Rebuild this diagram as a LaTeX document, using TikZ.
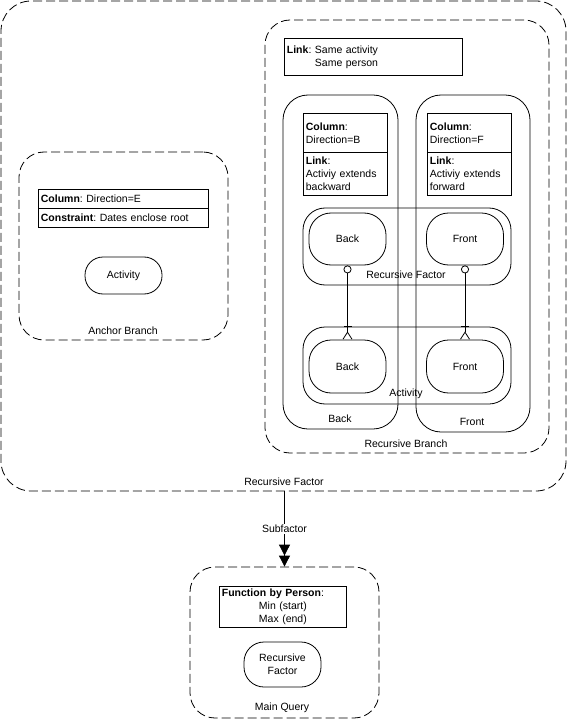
\documentclass[tikz,border=0pt]{standalone}
\usepackage{fontspec}
\setmainfont{Liberation Sans}
\usetikzlibrary{arrows.meta}
\frenchspacing
\begin{document}
\begin{tikzpicture}[x=1pt,y=-1pt,
  font=\fontsize{10.5}{13}\selectfont,
  line width=0.8pt,
  dashbox/.style={draw, dash pattern=on 9pt off 4pt, rounded corners=#1, inner sep=0pt},
  solidbox/.style={draw, rounded corners=#1, inner sep=0pt},
  txtbox/.style={draw, rectangle, inner sep=2.5pt, align=left, anchor=north west},
  lbl/.style={inner sep=0pt},
  erl/.style={{Circle[open,length=8pt,width=8pt]}-{Bar[width=8pt,sep=5pt]Straight Barb[reversed,length=7pt,width=9pt]}},
  sub/.style={-{Triangle[length=11pt,width=11pt,sep=0pt]Triangle[length=11pt,width=11pt]}}
]
\useasboundingbox (0,0) rectangle (568,719);

% outer recursive factor
\node[dashbox=30pt, minimum width=565pt, minimum height=490pt] (rf) at (283.5,246) {};
\node[lbl] (rflbl) at (284,482) {Recursive Factor};

% recursive branch
\node[dashbox=25pt, minimum width=284pt, minimum height=433pt] (rb) at (407,236.5) {};
\node[lbl] (rblbl) at (406,444) {Recursive Branch};

\node[txtbox, text width=173pt, minimum height=37pt] (link) at (284,38)
  {\textbf{Link}: Same activity\\\phantom{\textbf{Link}: }Same person};

% columns
\node[solidbox=25pt, minimum width=115pt, minimum height=334pt] (colB) at (340.5,262) {};
\node[lbl] (colBlbl) at (340,419) {Back};
\node[solidbox=25pt, minimum width=114pt, minimum height=337pt] (colF) at (473,263.5) {};
\node[lbl] (colFlbl) at (472,422) {Front};

\node[txtbox, text width=79pt, minimum height=39pt] (cB) at (303,113)
  {\textbf{Column}:\\Direction=B};
\node[txtbox, text width=79pt, minimum height=43pt] (lB) at (303,152)
  {\textbf{Link}:\\Activiy extends\\backward};
\node[txtbox, text width=79pt, minimum height=39pt] (cF) at (427,113)
  {\textbf{Column}:\\Direction=F};
\node[txtbox, text width=79pt, minimum height=43pt] (lF) at (427,152)
  {\textbf{Link}:\\Activiy extends\\forward};

% recursive factor inner
\node[solidbox=22pt, minimum width=208pt, minimum height=77pt] (rfac) at (407,246.5) {};
\node[lbl] (rfaclbl) at (406,275) {Recursive Factor};
\node[solidbox=22pt, minimum width=77pt, minimum height=52pt] (ub) at (347.5,239) {Back};
\node[solidbox=22pt, minimum width=77pt, minimum height=52pt] (uf) at (465,239) {Front};

% activity
\node[solidbox=22pt, minimum width=208pt, minimum height=77pt] (act) at (407,365.5) {};
\node[lbl] (actlbl) at (406,394) {Activity};
\node[solidbox=22pt, minimum width=77pt, minimum height=53pt] (lb) at (347.5,366.5) {Back};
\node[solidbox=22pt, minimum width=77pt, minimum height=53pt] (lf) at (465,366.5) {Front};

\draw[erl] (ub.south) -- (lb.north);
\draw[erl] (uf.south) -- (lf.north);

% anchor branch
\node[dashbox=25pt, minimum width=209pt, minimum height=188pt] (ab) at (123.5,246) {};
\node[lbl] (ablbl) at (123,331) {Anchor Branch};
\node[txtbox, text width=165pt, minimum height=19pt] (cE) at (38,189)
  {\textbf{Column}: Direction=E};
\node[txtbox, text width=165pt, minimum height=19pt] (ctE) at (38,208)
  {\textbf{Constraint}: Dates enclose root};
\node[solidbox=18pt, minimum width=77pt, minimum height=37pt] (actA) at (123.5,275.5) {Activity};

% main query
\node[dashbox=25pt, minimum width=189pt, minimum height=151pt] (mq) at (284.5,642.5) {};
\node[lbl] (mqlbl) at (282,708) {Main Query};
\node[txtbox, text width=122pt, minimum height=38pt] (fn) at (219,586)
  {\textbf{Function by Person}:\\\hfill Min (start)\hfill\null\\\hfill Max (end)\hfill\null};
\node[solidbox=20pt, minimum width=77pt, minimum height=45pt, align=center] (rfq) at (282.5,664.5) {Recursive\\Factor};

\draw[sub] (mq.north |- rf.south) -- node[fill=white, inner sep=1pt] (subl) {Subfactor} (mq.north);
\end{tikzpicture}
\end{document}
